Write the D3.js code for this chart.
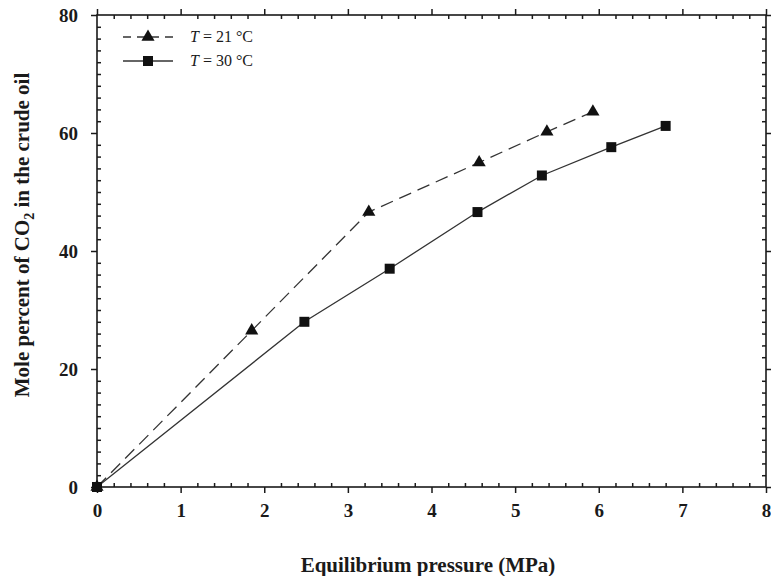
<!DOCTYPE html>
<html><head><meta charset="utf-8">
<script src="https://cdn.jsdelivr.net/npm/d3@7"></script>
<style>body{margin:0;background:#fff}svg{display:block}</style>
</head><body>
<script>
const pressure21 = [0, 1.85, 3.25, 4.57, 5.38, 5.93];
const mole21     = [0, 26.5, 46.6, 55.0, 60.2, 63.6];
const pressure30 = [0, 2.48, 3.5, 4.55, 5.32, 6.15, 6.8];
const mole30     = [0, 28.0, 37.0, 46.6, 52.8, 57.6, 61.2];
const xTicks = [0,1,2,3,4,5,6,7,8];
const yTicks = [0,20,40,60,80];
const seriesNames = ["21", "30"];

(function(){
const W = 771, H = 576;
const svg = d3.select("body").append("svg").attr("width", W).attr("height", H);
const x = d3.scaleLinear().domain([0,8]).range([97,766]);
const y = d3.scaleLinear().domain([0,80]).range([487,15]);
const ink = "#1a1a1a";
const font = "'Liberation Serif','Times New Roman',serif";

const g = svg.append("g");
g.append("rect").attr("x",x(0)).attr("y",y(80)).attr("width",x(8)-x(0)).attr("height",y(0)-y(80))
 .attr("fill","none").attr("stroke",ink).attr("stroke-width",1.6);

const xMinor = d3.range(0,8.0001,0.2).filter(v=>Math.abs(v-Math.round(v))>1e-6);
const yMinor = d3.range(0,80.001,2).filter(v=>v%20!==0);

g.append("g").attr("transform",`translate(0,${y(0)})`)
  .call(d3.axisBottom(x).tickValues(xTicks).tickSize(6).tickPadding(11).tickFormat(d3.format("d")));
g.append("g").attr("transform",`translate(0,${y(80)})`)
  .call(d3.axisTop(x).tickValues(xTicks).tickSize(6).tickFormat(""));
g.append("g").attr("transform",`translate(${x(0)},0)`)
  .call(d3.axisLeft(y).tickValues(yTicks).tickSize(6).tickPadding(13).tickFormat(d3.format("d")));
g.append("g").attr("transform",`translate(${x(8)},0)`)
  .call(d3.axisRight(y).tickValues(yTicks).tickSize(6).tickFormat(""));
g.append("g").attr("transform",`translate(0,${y(0)})`).call(d3.axisTop(x).tickValues(xMinor).tickSize(4).tickFormat(""));
g.append("g").attr("transform",`translate(0,${y(80)})`).call(d3.axisBottom(x).tickValues(xMinor).tickSize(4).tickFormat(""));
g.append("g").attr("transform",`translate(${x(0)},0)`).call(d3.axisRight(y).tickValues(yMinor).tickSize(4).tickFormat(""));
g.append("g").attr("transform",`translate(${x(8)},0)`).call(d3.axisLeft(y).tickValues(yMinor).tickSize(4).tickFormat(""));
g.selectAll(".domain").remove();
g.selectAll(".tick line").attr("stroke",ink).attr("stroke-width",1.5);
g.selectAll(".tick text").attr("font-family",font).attr("font-weight","bold").attr("font-size",19).attr("fill",ink);

const line = d3.line().x(d=>x(d[0])).y(d=>y(d[1]));
const d21 = pressure21.map((p,i)=>[p,mole21[i]]);
const d30 = pressure30.map((p,i)=>[p,mole30[i]]);
svg.append("path").datum(d21).attr("d",line).attr("fill","none").attr("stroke","#333")
  .attr("stroke-width",1.3).attr("stroke-dasharray","13,7");
svg.append("path").datum(d30).attr("d",line).attr("fill","none").attr("stroke","#333")
  .attr("stroke-width",1.3);
const tri = d3.symbol().type(d3.symbolTriangle).size(75);
const sq = d3.symbol().type(d3.symbolSquare).size(100);
svg.selectAll(".t21").data(d21).join("path").attr("d",tri)
  .attr("transform",d=>`translate(${x(d[0])},${y(d[1])})`).attr("fill","#111");
svg.selectAll(".t30").data(d30).join("path").attr("d",sq)
  .attr("transform",d=>`translate(${x(d[0])},${y(d[1])})`).attr("fill","#111");

const leg = svg.append("g");
[[37,true,seriesNames[0]],[61,false,seriesNames[1]]].forEach(([ly,dash,name])=>{
  leg.append("line").attr("x1",123).attr("x2",173).attr("y1",ly).attr("y2",ly)
    .attr("stroke","#333").attr("stroke-width",1.3).attr("stroke-dasharray",dash?"8,6":null);
  leg.append("path").attr("d",dash?tri:sq).attr("transform",`translate(148,${ly})`).attr("fill","#111");
  const t = leg.append("text").attr("x",190).attr("y",ly+5).attr("font-family",font).attr("font-size",16).attr("fill",ink);
  t.append("tspan").attr("font-style","italic").text("T");
  t.append("tspan").text(` = ${name} °C`);
});

svg.append("text").attr("x",428).attr("y",572).attr("text-anchor","middle")
  .attr("font-family",font).attr("font-weight","bold").attr("font-size",21).attr("fill",ink)
  .text("Equilibrium pressure (MPa)");
const yt = svg.append("text").attr("transform","translate(29,235) rotate(-90)").attr("text-anchor","middle")
  .attr("font-family",font).attr("font-weight","bold").attr("font-size",21).attr("fill",ink);
yt.append("tspan").text("Mole percent of CO");
yt.append("tspan").attr("font-size",14).attr("dy",5).text("2");
yt.append("tspan").attr("dy",-5).text(" in the crude oil");
})();
</script>
</body></html>
